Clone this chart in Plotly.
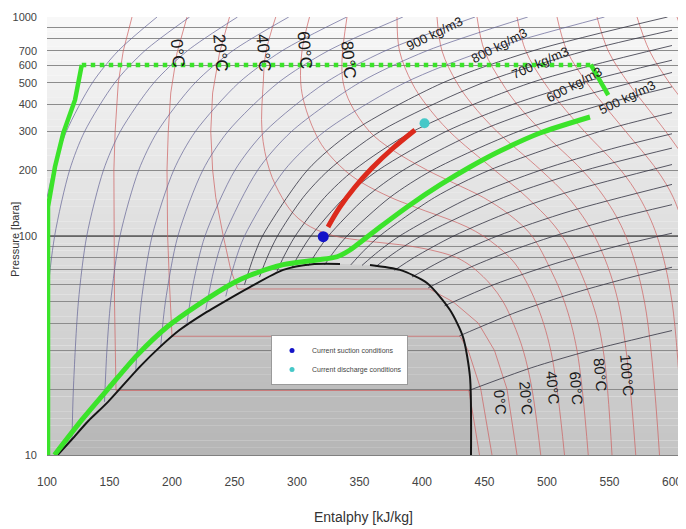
import math
import plotly.graph_objects as go

# ---------------- data ----------------
X_TICKS = [100, 150, 200, 250, 300, 350, 400, 450, 500, 550, 600]
Y_GRID = [10, 20, 30, 40, 50, 60, 70, 80, 90, 100, 200, 300, 400, 500, 600, 700, 800, 900, 1000]
Y_LABELED = [10, 100, 200, 300, 400, 500, 600, 700, 1000]
Y_MAJOR = [100]

# saturation dome (black)
DOME_LIQ_H = [108.5, 120, 133, 148, 174, 190, 206, 225, 244, 262, 289, 312, 334.4]
DOME_LIQ_P = [10, 11.8, 14.3, 17.3, 25.2, 31, 37.2, 44, 51, 58.3, 70, 74.3, 74.5]
DOME_VAP_H = [358.4, 382.4, 404, 422.4, 432.8, 438.4, 439.2]
DOME_VAP_P = [73.8, 70, 61, 45.9, 34.6, 22.7, 10]

# green cycle lines
GREEN_LEFT_H = [100.8, 100.8, 106.4, 113, 122.4, 127.8]
GREEN_LEFT_P = [10, 136, 207, 295, 418, 604]
GREEN_TOP_H = [127.8, 536]
GREEN_TOP_P = [604, 604]
GREEN_DROP_H = [535, 549]
GREEN_DROP_P = [606, 440]
GREEN_MAIN_H = [534.4, 494.4, 462.4, 438.4, 414.4, 390.4, 366.4, 342.4, 332, 316, 289,
                262, 249, 222, 196, 172, 150, 128, 106]
GREEN_MAIN_P = [349.4, 295.3, 244.4, 206.6, 171, 138.6, 109.9, 86.3, 80.4, 77.7, 74,
                66, 61, 49, 38.4, 28.5, 20.4, 14.5, 10]

# compression (red)
COMP_H = [324.8, 334.4, 346.4, 360, 376, 394.4]
COMP_P = [110, 135.7, 167.4, 204.4, 249.6, 304.8]

SUCTION_H = [321]
SUCTION_P = [99.3]
DISCHARGE_H = [402]
DISCHARGE_P = [327]

# isotherms (red thin)
ISOTHERM_T = [-20, 0, 20, 40, 60, 80, 100, 120, 140, 160, 180, 200, 220, 240]
ISOTHERM_H = [
    [168, 161, 157, 154.5, 153.5, 153.5, 154, 155.2, 437.5, 441, 446],
    [212, 204, 199, 197, 196, 196.5, 198, 200, 430.4, 437, 447, 456],
    [246, 238, 232.5, 231, 232.5, 235, 241, 247, 252.5, 406, 425, 445, 458, 468, 476],
    [283, 275, 273, 272, 278, 288, 298, 311, 330, 355, 390, 412, 427, 436, 443, 455, 465, 473, 481, 488, 495],
    [310, 304, 303, 306, 314, 322, 338, 352, 375, 388, 403, 420, 436, 449, 460, 470, 478, 491, 503, 514],
    [340, 336, 337, 343, 358, 375, 404, 425, 449, 470, 488, 503, 514, 524, 533],
    [380, 382, 392, 403, 422, 458, 484, 512, 536, 545, 552],
    [412, 416, 428, 440, 460, 495, 517, 538, 557, 571],
    [444, 450, 464, 476, 496, 528, 546, 563, 578, 590],
    [476, 483, 498, 511, 530, 559, 574, 588, 600, 609],
    [508, 516, 532, 545, 563, 588, 601, 612],
    [540, 549, 565, 578, 595, 617],
    [572, 582, 598, 611],
    [604, 614],
]
ISOTHERM_P = [
    [1000, 700, 500, 300, 200, 100, 50, 19.7, 19.7, 15, 10],
    [1000, 685, 450, 300, 200, 100, 60, 34.85, 34.85, 30, 20, 10],
    [1000, 685, 450, 300, 200, 150, 100, 70, 57.3, 57.3, 50, 40, 30, 20, 10],
    [1000, 685, 500, 300, 200, 150, 125, 110, 100, 95, 90, 85, 80, 75, 70, 60, 50, 40, 30, 20, 10],
    [1000, 700, 500, 400, 300, 250, 200, 175, 150, 140, 130, 120, 110, 100, 90, 80, 70, 50, 30, 10],
    [1000, 637, 500, 400, 300, 250, 200, 175, 150, 125, 100, 70, 50, 30, 10],
    [1000, 700, 500, 400, 300, 200, 150, 100, 50, 30, 10],
    [1000, 700, 500, 400, 300, 200, 150, 100, 50, 10],
    [1000, 700, 500, 400, 300, 200, 150, 100, 50, 10],
    [1000, 700, 500, 400, 300, 200, 150, 100, 50, 10],
    [1000, 700, 500, 400, 300, 200, 150, 100],
    [1000, 700, 500, 400, 300, 200],
    [1000, 700, 500, 400],
    [1000, 700],
]

# isochores (dark grey)
ISOCHORE_RHO = [1200, 1150, 1100, 1050, 1000, 950, 900, 850, 800, 750, 700, 650, 600, 550,
                500, 450, 400, 350, 300, 250, 200, 150, 100, 50]
ISOCHORE_H = [
    [100, 105.2, 115.5, 136.2, 156.9, 188],
    [95.3, 100.1, 106.1, 118.1, 130.1, 154.1, 178.1, 214.1],
    [120, 121.1, 125.1, 131.8, 145.2, 158.6, 185.4, 212.2, 252.4],
    [146, 147.9, 150.9, 158.4, 173.4, 188.4, 218.4, 248.4, 293.4],
    [171, 175.4, 184.1, 201.4, 218.7, 253.3, 287.9, 339.8],
    [191, 194.7, 204.7, 224.7, 244.7, 284.7, 324.7, 384.7],
    [212, 216.8, 226.4, 250.4, 274.4, 322.4, 370.4, 442.4],
    [227, 233.5, 241.6, 268.6, 295.6, 349.6, 403.6, 484.6],
    [243, 250, 258, 290, 322, 386, 450, 546],
    [258, 265.2, 272.4, 308.4, 344.4, 416.4, 488.4, 596.4],
    [270, 276.2, 284.4, 304.9, 325.4, 366.4, 448.4, 530.4, 600],
    [284, 289.2, 298.6, 322.1, 345.6, 392.6, 486.6, 600],
    [296, 303, 311.1, 338.1, 365.1, 419.1, 473.1, 527.1, 600],
    [309, 316.1, 325.1, 355.1, 385.1, 445.1, 505.1, 600],
    [322, 329.7, 340, 374.3, 408.5, 477, 545.5, 600],
    [343, 352.9, 366.1, 410.1, 454.1, 542.1, 600],
    [352, 365.1, 382.1, 438.6, 495.1, 551.6, 600],
    [363, 379.5, 399.3, 465.3, 531.3, 600],
    [378, 394.1, 425.3, 472.1, 518.9, 600],
    [392, 421.3, 460.3, 518.8, 600],
    [405, 433.8, 469.8, 505.8, 553.8, 600],
    [418, 457.6, 507.1, 556.6, 600],
    [430, 476, 522, 568, 600],
    [437.5, 487.3, 534.3, 600],
]
ISOCHORE_P = [
    [150, 200, 300, 500, 700, 1000],
    [10, 50, 100, 200, 300, 500, 700, 1000],
    [11.8, 20, 50, 100, 200, 300, 500, 700, 1000],
    [17.5, 30, 50, 100, 200, 300, 500, 700, 1000],
    [24.5, 50, 100, 200, 300, 500, 700, 1000],
    [31.5, 50, 100, 200, 300, 500, 700, 1000],
    [40, 60, 100, 200, 300, 500, 700, 1000],
    [46, 70, 100, 200, 300, 500, 700, 1000],
    [53, 75, 100, 200, 300, 500, 700, 1000],
    [60, 80, 100, 200, 300, 500, 700, 1000],
    [65, 80, 100, 150, 200, 300, 500, 700, 870],
    [69, 80, 100, 150, 200, 300, 500, 741],
    [72, 85, 100, 150, 200, 300, 400, 500, 635],
    [73.2, 85, 100, 150, 200, 300, 400, 558],
    [73.7, 85, 100, 150, 200, 300, 400, 480],
    [73.8, 85, 100, 150, 200, 300, 366],
    [73.4, 85, 100, 150, 200, 250, 293],
    [72.5, 85, 100, 150, 200, 252],
    [69.7, 80, 100, 130, 160, 212],
    [65, 80, 100, 130, 172],
    [58, 70, 85, 100, 120, 139],
    [48, 60, 75, 90, 103],
    [35, 45, 55, 65, 72],
    [19.7, 25, 30, 37],
]

# text labels
DENSITY_TEXT = ["900 kg/m3", "800 kg/m3", "700 kg/m3", "600 kg/m3", "500 kg/m3"]
DENSITY_H = [410, 462, 495, 522, 564]
DENSITY_P = [845, 738, 617, 490, 427]
DENSITY_ANGLE = [-26, -27, -24, -28, -26]

TOP_T_TEXT = ["0°C", "20°C", "40°C", "60°C", "80°C"]
TOP_T_H = [204, 238.4, 272.8, 306.4, 340.8]
TOP_T_P = [685, 685, 685, 706, 637]

BOT_T_TEXT = ["0°C", "20°C", "40°C", "60°C", "80°C", "100°C"]
BOT_T_H = [462.4, 483.8, 505, 523.8, 542.4, 563.8]
BOT_T_P = [17.5, 18.2, 20.2, 20.2, 23.2, 23.2]

X_TITLE = "Entalphy [kJ/kg]"
Y_TITLE = "Pressure [bara]"
LEGEND_NAMES = ["Current suction conditions", "Current discharge conditions"]

# ---------------- figure ----------------
FONT = "Liberation Sans Narrow, Liberation Sans, Arial, sans-serif"
fig = go.Figure()

fig.add_trace(go.Scatter(x=DOME_LIQ_H + DOME_VAP_H, y=DOME_LIQ_P + DOME_VAP_P,
                         fill="toself", fillcolor="rgba(0,0,0,0.07)", mode="lines",
                         line=dict(width=0), hoverinfo="skip", showlegend=False))

for p in Y_MAJOR:
    fig.add_trace(go.Scatter(x=[100, 604.8], y=[p, p], mode="lines",
                             line=dict(color="#5a5a5a", width=1.3), hoverinfo="skip", showlegend=False))

for i, t in enumerate(ISOTHERM_T):
    shape = "linear" if t <= 20 else "spline"
    fig.add_trace(go.Scatter(x=ISOTHERM_H[i], y=ISOTHERM_P[i], mode="lines",
                             line=dict(color="rgba(205,95,95,0.7)", width=1, shape=shape),
                             hoverinfo="skip", showlegend=False))

for i, rho in enumerate(ISOCHORE_RHO):
    col = "rgba(100,100,150,0.7)" if rho >= 800 else "rgba(50,50,65,0.8)"
    fig.add_trace(go.Scatter(x=ISOCHORE_H[i], y=ISOCHORE_P[i], mode="lines",
                             line=dict(color=col, width=1, shape="spline", smoothing=0.8),
                             hoverinfo="skip", showlegend=False))

fig.add_trace(go.Scatter(x=DOME_LIQ_H, y=DOME_LIQ_P, mode="lines",
                         line=dict(color="#151515", width=2, shape="spline", smoothing=0.7),
                         hoverinfo="skip", showlegend=False))
fig.add_trace(go.Scatter(x=DOME_VAP_H, y=DOME_VAP_P, mode="lines",
                         line=dict(color="#151515", width=2, shape="spline", smoothing=0.7),
                         hoverinfo="skip", showlegend=False))

GREEN = "#3be32a"
fig.add_trace(go.Scatter(x=GREEN_LEFT_H, y=GREEN_LEFT_P, mode="lines",
                         line=dict(color=GREEN, width=4.5), hoverinfo="skip", showlegend=False))
fig.add_trace(go.Scatter(x=GREEN_TOP_H, y=GREEN_TOP_P, mode="lines",
                         line=dict(color=GREEN, width=4.5, dash="dot"), hoverinfo="skip", showlegend=False))
fig.add_trace(go.Scatter(x=GREEN_DROP_H, y=GREEN_DROP_P, mode="lines",
                         line=dict(color=GREEN, width=4.5), hoverinfo="skip", showlegend=False))
fig.add_trace(go.Scatter(x=GREEN_MAIN_H, y=GREEN_MAIN_P, mode="lines",
                         line=dict(color=GREEN, width=5, shape="spline", smoothing=0.7),
                         hoverinfo="skip", showlegend=False))
fig.add_trace(go.Scatter(x=COMP_H, y=COMP_P, mode="lines",
                         line=dict(color="#dc2a1c", width=5, shape="spline"),
                         hoverinfo="skip", showlegend=False))

fig.add_trace(go.Scatter(x=SUCTION_H, y=SUCTION_P, mode="markers",
                         marker=dict(color="#1414c8", size=11), hoverinfo="skip", showlegend=False))
fig.add_trace(go.Scatter(x=DISCHARGE_H, y=DISCHARGE_P, mode="markers",
                         marker=dict(color="#46c8c8", size=10), hoverinfo="skip", showlegend=False))

fig.add_trace(go.Scatter(x=[None], y=[None], mode="markers", name=LEGEND_NAMES[0],
                         marker=dict(color="#1414c8", size=5)))
fig.add_trace(go.Scatter(x=[None], y=[None], mode="markers", name=LEGEND_NAMES[1],
                         marker=dict(color="#46c8c8", size=5)))

annotations = []
for txt, h, p, a in zip(DENSITY_TEXT, DENSITY_H, DENSITY_P, DENSITY_ANGLE):
    annotations.append(dict(x=h, y=math.log10(p), xref="x", yref="y", text=txt, showarrow=False,
                            textangle=a, font=dict(family=FONT, size=13, color="#1a1a1a")))
for txt, h, p in zip(TOP_T_TEXT, TOP_T_H, TOP_T_P):
    annotations.append(dict(x=h, y=math.log10(p), xref="x", yref="y", text=txt, showarrow=False,
                            textangle=85, font=dict(family=FONT, size=17, color="#1a1a1a")))
for txt, h, p in zip(BOT_T_TEXT, BOT_T_H, BOT_T_P):
    annotations.append(dict(x=h, y=math.log10(p), xref="x", yref="y", text=txt, showarrow=False,
                            textangle=85, font=dict(family=FONT, size=15, color="#1a1a1a")))
annotations.append(dict(x=0.5008, y=-0.1416, xref="paper", yref="paper", text=X_TITLE,
                        showarrow=False, xanchor="center", yanchor="middle",
                        font=dict(family=FONT, size=14, color="#333")))
annotations.append(dict(x=-0.0507, y=0.491, xref="paper", yref="paper", text=Y_TITLE,
                        showarrow=False, xanchor="center", yanchor="middle", textangle=-90,
                        font=dict(family=FONT, size=11, color="#333")))

shapes = []
N = 60
top = (248, 248, 248)
bot = (196, 196, 196)
for i in range(N):
    f = (i + 0.5) / N
    c = tuple(int(round(bot[k] + (top[k] - bot[k]) * f)) for k in range(3))
    shapes.append(dict(type="rect", xref="paper", yref="paper", x0=0, x1=1,
                       y0=i / N, y1=(i + 1) / N, line=dict(width=0),
                       fillcolor="rgb(%d,%d,%d)" % c, layer="below"))

# page body has an 8px margin: the plot area is placed so that it lands on
# screen x 47..678, y 17..455
fig.update_layout(
    width=686, height=529,
    margin=dict(l=39, r=16, t=9, b=82),
    paper_bgcolor="white", plot_bgcolor="white",
    shapes=shapes, annotations=annotations,
    showlegend=True,
    legend=dict(x=0.355, y=0.274, xanchor="left", yanchor="top",
                bgcolor="white", bordercolor="#9a9a9a", borderwidth=1,
                font=dict(family=FONT, size=7, color="#444"), tracegroupgap=0),
    xaxis=dict(range=[100, 604.8], tickvals=X_TICKS, showgrid=False, zeroline=False,
               showline=True, linecolor="#808080", ticks="", ticklabelstandoff=16,
               automargin=False,
               tickfont=dict(family=FONT, size=12, color="#444")),
    yaxis=dict(type="log", range=[1, 3], tickvals=Y_GRID,
               ticktext=[str(v) if v in Y_LABELED else "" for v in Y_GRID],
               showgrid=True, gridcolor="#8c8c8c", gridwidth=1, zeroline=False, ticks="",
               ticklabelstandoff=9, automargin=False,
               tickfont=dict(family=FONT, size=11, color="#444")),
)

fig.write_html("out.html")
